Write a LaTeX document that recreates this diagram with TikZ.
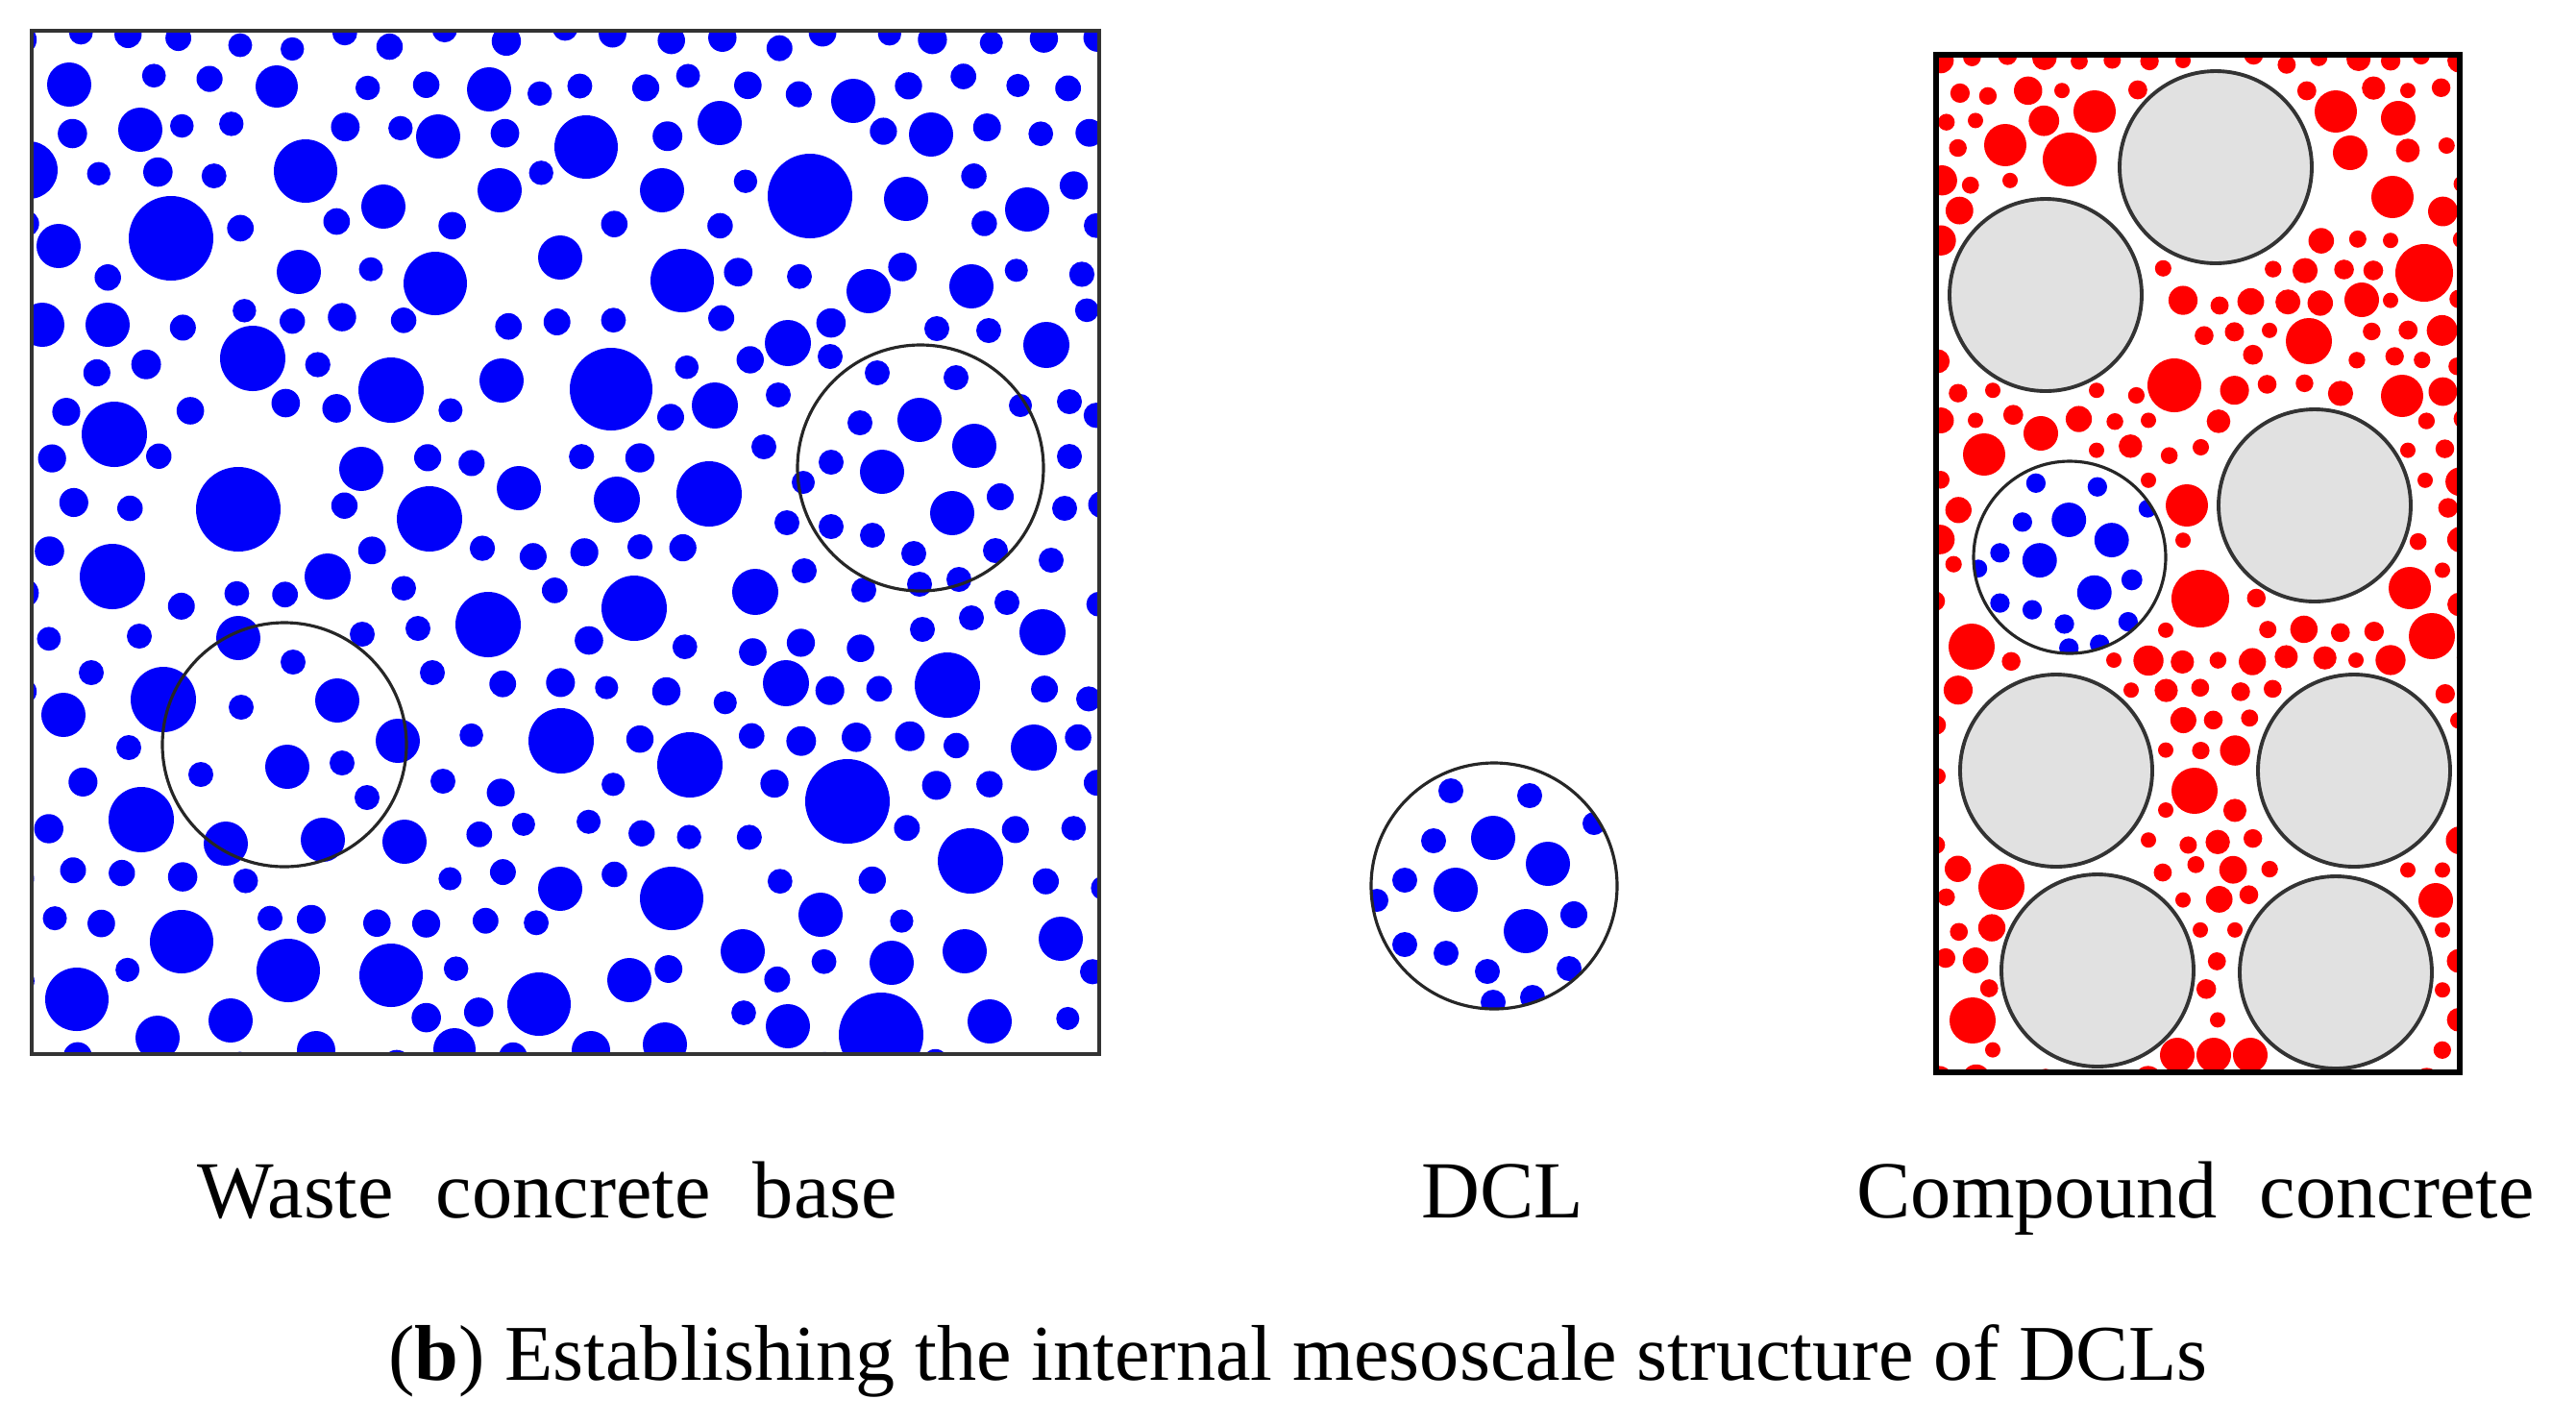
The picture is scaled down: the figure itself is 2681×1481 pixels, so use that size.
\documentclass[tikz,border=0pt]{standalone}
\usepackage{fontspec}
\setmainfont{Liberation Serif}
\newfontfamily\labelfont[WordSpace=2.1]{Liberation Serif}

\definecolor{grainblue}{RGB}{0,0,250}
\definecolor{grainred}{RGB}{255,0,0}
\definecolor{aggrgrey}{RGB}{225,225,225}

\newif\ifgrainfree
\newdimen\gapx \newdimen\gapy \newdimen\gaplim
% clears the flag when the grain (\grx,\gry,\grr) comes too close to a circle of the list
\newcommand\checkgrain[1]{%
  \foreach \ex/\ey/\er in #1 {%
    \gapx=\grx pt \advance\gapx by -\ex pt
    \ifdim\gapx<0pt \gapx=-\gapx \fi
    \gapy=\gry pt \advance\gapy by -\ey pt
    \ifdim\gapy<0pt \gapy=-\gapy \fi
    \gaplim=\er pt \advance\gaplim by \grr pt \advance\gaplim by 4pt
    \ifdim\gapx<\gaplim \ifdim\gapy<\gaplim
      \pgfmathparse{veclen(\grx-\ex,\gry-\ey)}%
      \ifdim\pgfmathresult pt<\gaplim \global\grainfreefalse \fi
    \fi\fi
  }%
}

% grains of one DCL, circle of radius 128 round (0,0)
\newcommand\dclgrains{%
  \fill[grainblue] (-45,-99) circle (13) (37,-94) circle (13) (104,-65) circle (12)
    (-1,-50) circle (23) (56,-23) circle (23) (-63,-47) circle (13) (-93,-6) circle (13)
    (-40,4) circle (23) (-122,15) circle (12) (83,30) circle (14) (33,47) circle (23)
    (-93,61) circle (13) (-50,70) circle (13) (-7,89) circle (13) (78,86) circle (13)
    (-1,121) circle (13) (40,116) circle (13);
}

\def\bluebig{72/88/23, 288/90/22, 146/135/23, 318/178/33, 509/93/23, 456/142/23,
  610/153/33, 749/128/23, 888/105/23, 969/140/23, 843/204/44, 178/248/44, 399/215/23,
  520/198/23, 689/198/23, 943/207/23, 1069/218/23, 61/256/23, 311/283/23, 453/295/33,
  583/268/23, 710/292/33, 1011/298/23, 904/303/23, 30/177/30,
  44/338/23, 112/338/23, 263/373/34, 407/406/34, 522/396/23, 119/452/34, 376/488/23,
  248/530/44, 447/540/34, 540/508/23, 117/600/34, 341/600/24, 508/650/34, 66/744/23,
  584/771/34, 147/853/34, 421/876/23, 636/405/43, 820/357/24, 1089/359/24, 744/422/24,
  738/514/34, 642/520/24, 660/633/34, 786/616/24, 1085/658/24, 818/711/24, 986/713/34,
  718/796/34, 882/834/44, 1076/778/24,
  248/664/23, 305/689/13, 170/728/34, 251/736/13, 351/729/23, 414/771/23, 299/798/23,
  356/794/13, 209/806/13, 382/830/13, 235/878/23, 336/874/23, 377/660/13, 450/700/13,
  435/654/13, 145/662/13, 134/778/13, 95/700/13, 461/813/13,
  795/465/13, 819/544/13, 837/594/13, 899/614/13, 1094/583/13, 1113/418/13, 1113/475/13,
  1108/529/13, 1048/627/13, 1011/643/13, 960/655/13, 810/411/13, 864/371/13, 1029/344/13,
  975/342/13,
  189/980/33, 300/1010/33, 407/1015/33, 80/1040/33, 561/1045/33, 699/935/33, 1010/896/34,
  917/1077/44, 583/925/23, 854/952/23, 773/990/23, 928/1002/23, 1004/990/23, 1104/977/23,
  655/1020/23, 240/1062/23, 820/1068/23, 1030/1063/23, 164/1080/23, 692/1087/23,
  473/1092/22, 329/1093/20, 615/1093/20}
\def\bluezones{958/487/128, 296/775/127}
\def\greyaggr{2306/174/100, 2129/307/100, 2409/526/100, 2140/802/100, 2450/802/100,
  2183/1010/100, 2431/1012/100}
\def\bluelens{2154/580/100}
\def\redbig{2154/166/28, 2087/151/22, 2180/116/22, 2431/116/22, 2496/123/18, 2446/159/18,
  2490/205/22, 2523/284/30, 2403/355/24, 2500/412/22, 2263/401/28, 2458/312/18,
  2065/473/22, 2124/451/18, 2276/526/22, 2290/623/30, 2531/662/24, 2508/612/22,
  2052/673/24, 2284/823/24, 2083/923/24, 2053/1062/24, 2535/937/18, 2266/1098/18,
  2304/1098/18, 2342/1098/18}

\begin{document}
\begin{tikzpicture}[x=0.1mm,y=-0.1mm,
    box/.style={draw=black!80,line width=0.9pt},
    lens/.style={draw=black!85,line width=0.9pt},
    aggregate/.style={draw=black!80,fill=aggrgrey,line width=1.1pt},
    partname/.style={inner sep=0pt,anchor=base west,font=\labelfont\fontsize{24pt}{29pt}\selectfont}]
\useasboundingbox (0,0) rectangle (2681,1481);

% Waste concrete base
\begin{scope}
  \clip (33,32) rectangle (1144,1097);
  \pgfmathsetseed{7}
  \foreach \row in {0,...,22}{
    \foreach \col in {0,...,20}{
      \pgfmathsetmacro\grr{12+3.5*rnd}
      \pgfmathsetmacro\gra{360*rnd}
      \pgfmathsetmacro\grd{(26-\grr)*rnd}
      \pgfmathsetmacro\grx{22+56*\col+28*mod(\row,2)+\grd*cos(\gra)}
      \pgfmathsetmacro\gry{40+48.5*\row+\grd*sin(\gra)}
      \global\grainfreetrue
      \checkgrain{\bluebig}\checkgrain{\bluezones}
      \pgfmathsetmacro\grp{rnd}
      \ifdim\grp pt<0.03pt \global\grainfreefalse \fi
      \ifgrainfree \fill[grainblue] (\grx,\gry) circle (\grr); \fi
    }
  }
  \foreach \ex/\ey/\er in \bluebig {\fill[grainblue] (\ex,\ey) circle (\er);}
  \begin{scope}[shift={(958,487)}]
    \dclgrains
  \end{scope}
\end{scope}
\draw[lens] (958,487) circle (128);
\draw[lens] (296,775) circle (127);
\draw[box] (33,32) rectangle (1144,1097);

% DCL
\begin{scope}[shift={(1555,922)}]
  \clip (0,0) circle (128);
  \dclgrains
\end{scope}
\draw[lens] (1555,922) circle (128);

% Compound concrete
\begin{scope}
  \clip (2015,57) rectangle (2560,1116);
  \pgfmathsetseed{11}
  \foreach \row in {0,...,34}{
    \foreach \col in {0,...,15}{
      \pgfmathsetmacro\grr{rnd<0.6 ? 8.5+2*rnd : 12+4*rnd}
      \pgfmathsetmacro\gra{360*rnd}
      \pgfmathsetmacro\grd{(17-\grr)*rnd}
      \pgfmathsetmacro\grx{2020+36*\col+18*mod(\row,2)+\grd*cos(\gra)}
      \pgfmathsetmacro\gry{63+31.2*\row+\grd*sin(\gra)}
      \global\grainfreetrue
      \checkgrain{\greyaggr}\checkgrain{\bluelens}\checkgrain{\redbig}
      % second try: a small grain right on the grid point
      \ifgrainfree\else
        \def\grr{8}
        \pgfmathsetmacro\grx{2020+36*\col+18*mod(\row,2)}
        \pgfmathsetmacro\gry{63+31.2*\row}
        \global\grainfreetrue
        \checkgrain{\greyaggr}\checkgrain{\bluelens}\checkgrain{\redbig}
      \fi
      \pgfmathsetmacro\grp{rnd}
      \ifdim\grp pt<0.04pt \global\grainfreefalse \fi
      \ifgrainfree \fill[grainred] (\grx,\gry) circle (\grr); \fi
    }
  }
  \foreach \ex/\ey/\er in \redbig {\fill[grainred] (\ex,\ey) circle (\er);}
  \foreach \ex/\ey/\er in \greyaggr {\draw[aggregate] (\ex,\ey) circle (\er);}
  \fill[white] (2154,580) circle (100);
  \begin{scope}[shift={(2154,580)},scale=0.78]
    \clip (0,0) circle (128);
    \dclgrains
  \end{scope}
  \draw[lens] (2154,580) circle (100);
\end{scope}
\draw[box,draw=black,line width=1.5pt] (2015,57) rectangle (2560,1116);

% Labels
\node[partname] (wastelabel) at (205,1267) {Waste concrete base};
\node[partname] (dcllabel) at (1479,1267) {DCL};
\node[partname] (compoundlabel) at (1932,1267) {Compound concrete};
\node[inner sep=0pt,anchor=base,font=\fontsize{23.4pt}{28pt}\selectfont] (caption)
  at (1351,1436) {(\textbf{b}) Establishing the internal mesoscale structure of DCLs};
\end{tikzpicture}
\end{document}
